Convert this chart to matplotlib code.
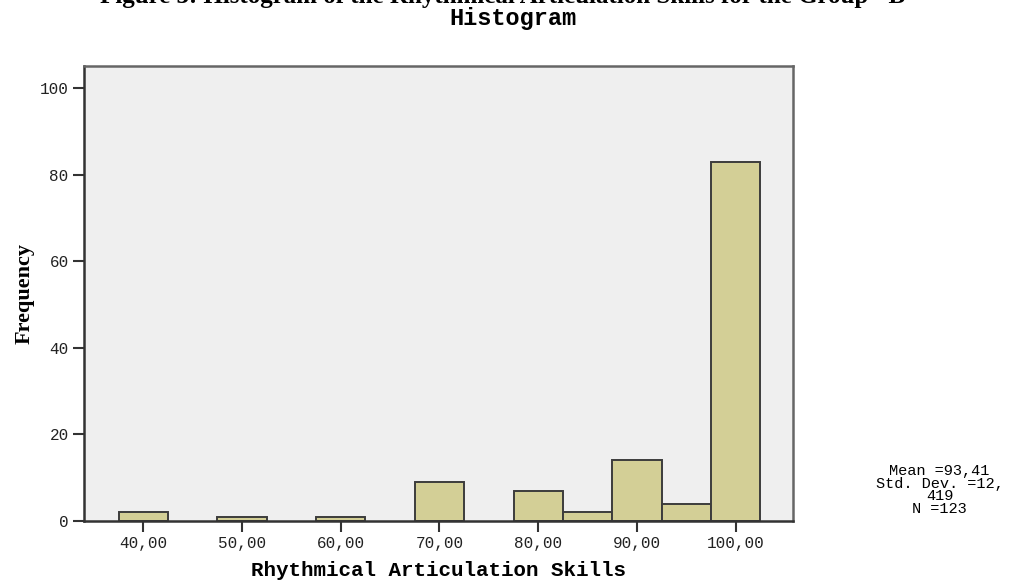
import numpy as np
import matplotlib.pyplot as plt

# histogram bins (centres, width 5) and counts
bin_centres = [40, 50, 60, 70, 80, 85, 90, 95, 100]
counts = [2, 1, 1, 9, 7, 2, 14, 4, 83]
bin_width = 5

x_ticks = [40, 50, 60, 70, 80, 90, 100]
x_tick_labels = ["40,00", "50,00", "60,00", "70,00", "80,00", "90,00", "100,00"]
y_ticks = [0, 20, 40, 60, 80, 100]

stats_text = "Mean =93,41\nStd. Dev. =12,\n419\nN =123"

mono = "Liberation Mono"

fig = plt.figure(figsize=(10.19, 5.81), dpi=100)
ax = fig.add_axes([0.0824, 0.1033, 0.6958, 0.7831])
ax.set_facecolor("#efefef")

ax.bar(bin_centres, counts, width=bin_width, color="#d3cf96",
       edgecolor="#3c3c3c", linewidth=1.4, zorder=2)

ax.set_xlim(34.0, 105.8)
ax.set_ylim(0, 105.1)
ax.set_xticks(x_ticks)
ax.set_xticklabels(x_tick_labels, fontfamily=mono, fontsize=11.5, color="#222222")
ax.set_yticks(y_ticks)
ax.set_yticklabels([str(v) for v in y_ticks], fontfamily=mono, fontsize=11.5,
                   color="#222222")
ax.tick_params(axis="both", direction="out", length=8, width=1.5,
               color="#333333", pad=3)

for side in ["left", "bottom"]:
    ax.spines[side].set_color("#333333")
    ax.spines[side].set_linewidth(1.8)
for side in ["top", "right"]:
    ax.spines[side].set_color("#666666")
    ax.spines[side].set_linewidth(1.8)

ax.set_ylabel("Frequency", fontfamily="Liberation Serif", fontweight="bold",
              fontsize=16, labelpad=4)
ax.set_xlabel("Rhythmical Articulation Skills", fontfamily=mono,
              fontweight="bold", fontsize=15, labelpad=7)

# caption line cut off at the top of the image
fig.text(0.5, 1.0 + 4 / 581, 'Figure 3: Histogram of the Rhythmical Articulation Skills for the Group "B"',
         ha="center", va="center", fontfamily="Liberation Serif", fontsize=18,
         fontweight="bold")
fig.text(0.503, 1 - 19 / 581, "Histogram", ha="center", va="center",
         fontfamily=mono, fontweight="bold", fontsize=17)

fig.text(0.922, 1 - 490 / 581, stats_text, ha="center", va="center",
         fontfamily=mono, fontsize=11, linespacing=0.85)

fig.savefig("out.png", dpi=100)
